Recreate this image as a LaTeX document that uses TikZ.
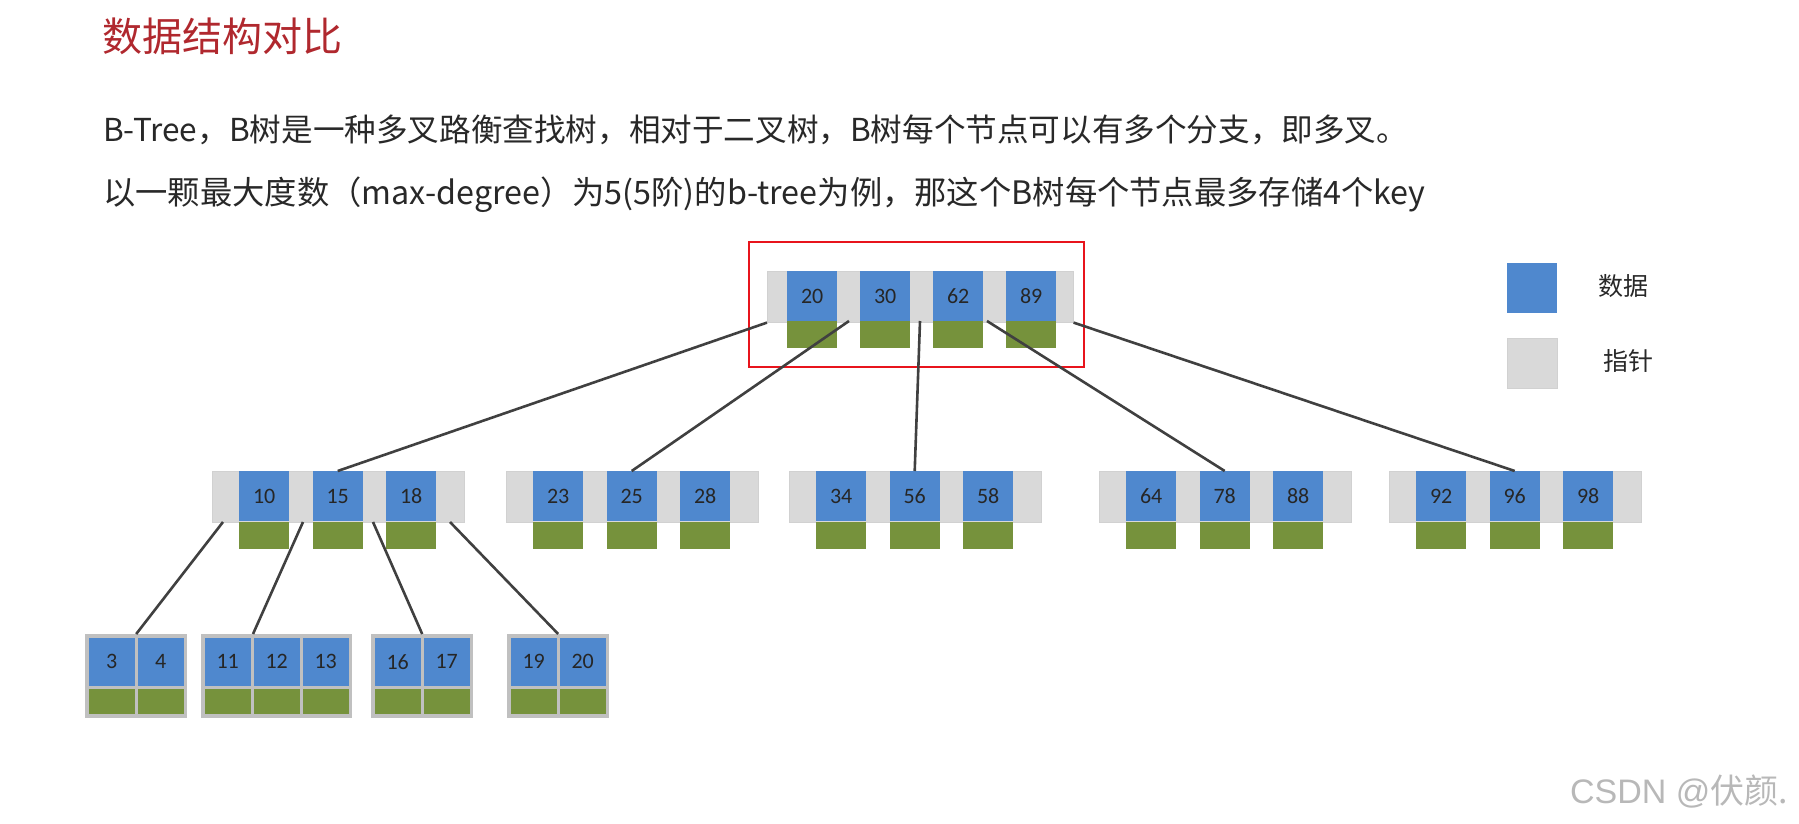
\documentclass[tikz,border=0pt]{standalone}
\usepackage{fontspec}
\setmainfont{Noto Sans CJK SC}
\newfontfamily\numfont{Carlito}
\newfontfamily\markfont{Liberation Sans}
\definecolor{keyblue}{RGB}{79,136,206}
\definecolor{datagreen}{RGB}{118,146,60}
\definecolor{ptrgray}{RGB}{217,217,217}
\definecolor{leafgray}{RGB}{192,192,192}
\definecolor{linegray}{RGB}{64,64,64}
\definecolor{titlered}{RGB}{176,40,46}
\definecolor{boxred}{RGB}{232,20,28}
\definecolor{bodytext}{RGB}{40,40,40}
\tikzset{
  ptrbar/.style={fill=ptrgray, draw=black!18, line width=0.6pt, inner sep=0pt, minimum height=51pt, anchor=north west},
  keybox/.style={fill=keyblue, inner sep=0pt, minimum width=50pt, minimum height=50pt, anchor=north west, text=black!85, font=\numfont\fontsize{22}{26}\selectfont},
  databox/.style={fill=datagreen, inner sep=0pt, minimum width=50pt, minimum height=27pt, anchor=north west},
  leafframe/.style={fill=leafgray, inner sep=0pt, minimum height=84pt, anchor=north west},
  leafkey/.style={keybox, minimum width=46pt, minimum height=48pt, font=\numfont\fontsize{22}{26}\selectfont},
  leafdata/.style={databox, minimum width=46pt, minimum height=25pt},
  branch/.style={draw=linegray, line width=2.6pt},
  textline/.style={anchor=west, inner sep=0pt, text=bodytext, font=\fontsize{31.6}{38}\selectfont},
}

\begin{document}
\begin{tikzpicture}[x=1pt, y=-1pt]
\useasboundingbox (0,0) rectangle (1799,824);
% heading and explanation
\node[textline, text=titlered, font=\fontsize{40}{48}\selectfont] (title) at (102,36) {数据结构对比};
\node[textline] (line1) at (103,130) {B-Tree，B树是一种多叉路衡查找树，相对于二叉树，B树每个节点可以有多个分支，即多叉。};
\node[textline, font=\fontsize{32.3}{38}\selectfont] (line2) at (103,195) {以一颗最大度数（max-degree）为5(5阶)的b-tree为例，那这个B树每个节点最多存储4个key};
% root
\node[ptrbar, minimum width=306pt] (root) at (767,271) {};
\foreach \k [count=\i] in {20,30,62,89} {
  \node[keybox] (k\k) at ({787+73*(\i-1)},271) {\k};
  \node[databox] (d\k) at ({787+73*(\i-1)},321) {};
}
\draw[boxred, line width=2.6pt] (749,242) rectangle (1084,367);
% second level
\foreach \L/\a/\b/\c in {212/10/15/18, 506/23/25/28, 789/34/56/58, 1099/64/78/88, 1389/92/96/98} {
  \node[ptrbar, minimum width=252pt] (n\a) at (\L,471) {};
  \foreach \k [count=\i] in {\a,\b,\c} {
    \node[keybox] (k\k) at ({\L+27+73.5*(\i-1)},471) {\k};
    \node[databox] (d\k) at ({\L+27+73.5*(\i-1)},522) {};
  }
}
% leaves
\foreach \L/\n/\keys [count=\j] in {85/2/{3,4}, 201/3/{11,12,13}, 371/2/{16,17}, 507/2/{19,20}} {
  \pgfmathsetmacro\fw{49*\n+4}
  \node[leafframe, minimum width=\fw pt] (leaf\j) at (\L,634) {};
  \foreach \k [count=\i] in \keys {
    \node[leafkey] (l\k) at ({\L+3.5+49*(\i-1)},637.5) {\k};
    \node[leafdata] (ld\k) at ({\L+3.5+49*(\i-1)},689) {};
  }
}
% pointers
\coordinate (r1) at (849,321);
\coordinate (r2) at (920,321);
\coordinate (r3) at (987,321);
\coordinate (m0) at (223,522);
\coordinate (m1) at (303,522);
\coordinate (m2) at (373,522);
\coordinate (m3) at (450,522);
\coordinate (c11) at (253,634);
\draw[branch] (root.south west) -- (k15.north);
\draw[branch] (r1) -- (k25.north);
\draw[branch] (r2) -- (k56.north);
\draw[branch] (r3) -- (k78.north);
\draw[branch] (root.south east) -- (k96.north);
\draw[branch] (m0) -- (leaf1.north);
\draw[branch] (m1) -- (c11);
\draw[branch] (m2) -- (leaf3.north);
\draw[branch] (m3) -- (leaf4.north);
% legend
\node[keybox, minimum width=50pt] (keylegend) at (1507,263) {};
\node[ptrbar, minimum width=50pt, minimum height=50pt] (ptrlegend) at (1507,338) {};
\node[font=\fontsize{25}{30}\selectfont, text=bodytext] (keytext) at (1623,286) {数据};
\node[font=\fontsize{25}{30}\selectfont, text=bodytext] (ptrtext) at (1628,361) {指针};
% watermark
\node[font=\fontsize{34}{38}\selectfont, text=black!28] (mark) at (1679,792) {{\markfont CSDN @}伏颜.};
\end{tikzpicture}
\end{document}
